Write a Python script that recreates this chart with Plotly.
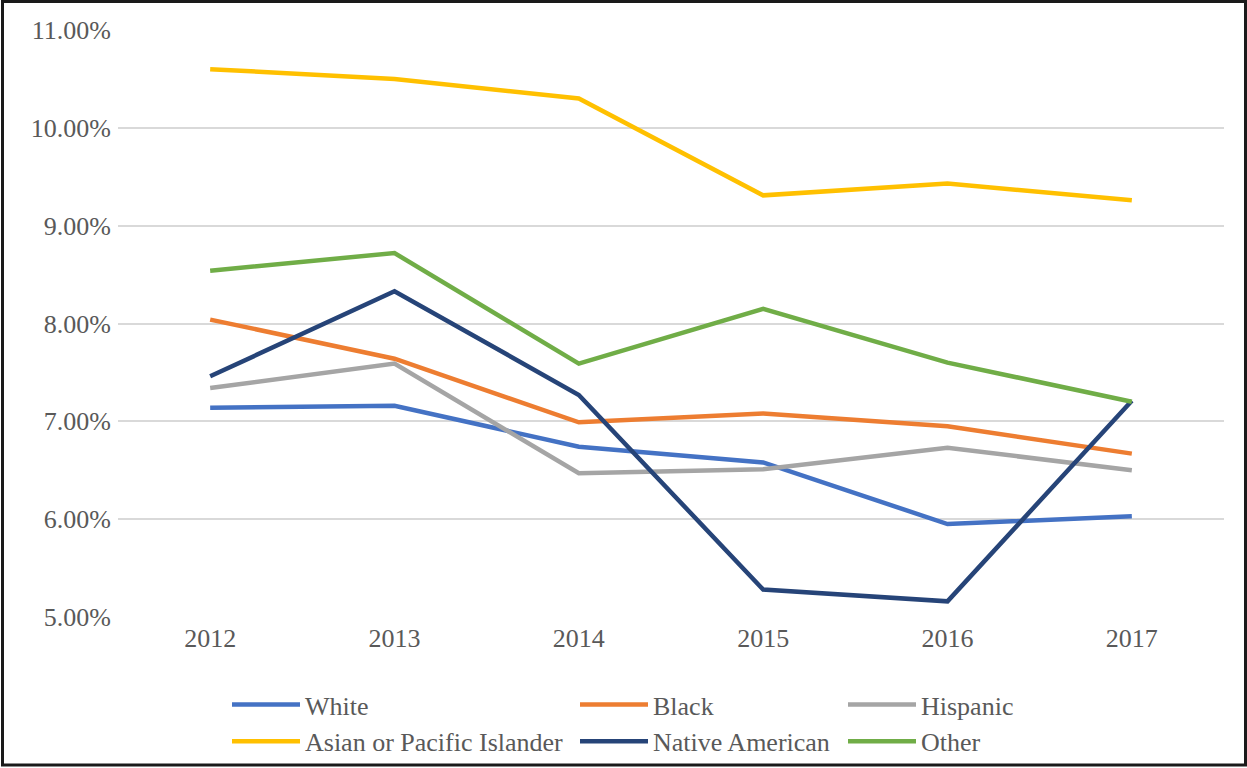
import plotly.graph_objects as go

# Category axis and series values (percent)
years = ["2012", "2013", "2014", "2015", "2016", "2017"]

white = [7.14, 7.16, 6.74, 6.58, 5.95, 6.03]
black = [8.04, 7.64, 6.99, 7.08, 6.95, 6.67]
hispanic = [7.34, 7.59, 6.47, 6.51, 6.73, 6.50]
asian_pi = [10.60, 10.50, 10.30, 9.31, 9.43, 9.26]
native_american = [7.46, 8.33, 7.27, 5.28, 5.16, 7.21]
other = [8.54, 8.72, 7.59, 8.15, 7.60, 7.20]

y_ticks = [5, 6, 7, 8, 9, 10, 11]
y_tick_labels = ["5.00%", "6.00%", "7.00%", "8.00%", "9.00%", "10.00%", "11.00%"]

FONT = "Liberation Serif"
TEXT_COLOR = "#595959"
FONT_SIZE = 26

series = [
    ("White", white, "#4472C4", "legend"),
    ("Black", black, "#ED7D31", "legend2"),
    ("Hispanic", hispanic, "#A5A5A5", "legend3"),
    ("Asian or Pacific Islander", asian_pi, "#FFC000", "legend"),
    ("Native American", native_american, "#264478", "legend2"),
    ("Other", other, "#70AD47", "legend3"),
]

fig = go.Figure()
for name, values, color, legend_id in series:
    fig.add_trace(
        go.Scatter(
            x=years,
            y=values,
            name=name,
            mode="lines",
            line=dict(color=color, width=4.5),
            legend=legend_id,
            legendgroup=name,
        )
    )

W, H = 1247, 768
ML, MR, MT, MB = 118, 23, 30, 151
plot_w = W - ML - MR
plot_h = H - MT - MB


def px_to_paper_x(px):
    return (px - ML) / plot_w


def px_to_paper_y(py):
    return (H - MB - py) / plot_h


legend_common = dict(
    orientation="v",
    xanchor="left",
    yanchor="top",
    y=px_to_paper_y(681),
    bgcolor="rgba(0,0,0,0)",
    borderwidth=0,
    font=dict(family=FONT, size=FONT_SIZE, color=TEXT_COLOR),
    itemwidth=68,
    traceorder="grouped",
    tracegroupgap=0,
    itemclick=False,
)

fig.update_layout(
    width=W,
    height=H,
    margin=dict(l=ML, r=MR, t=MT, b=MB, autoexpand=False),
    paper_bgcolor="white",
    plot_bgcolor="white",
    font=dict(family=FONT, size=FONT_SIZE, color=TEXT_COLOR),
    legend=dict(legend_common, x=px_to_paper_x(227)),
    legend2=dict(legend_common, x=px_to_paper_x(575)),
    legend3=dict(legend_common, x=px_to_paper_x(843)),
    xaxis=dict(
        type="category",
        range=[-0.5, 5.5],
        showgrid=False,
        zeroline=False,
        showline=False,
        ticks="",
        ticklabelstandoff=3,
        tickfont=dict(family=FONT, size=FONT_SIZE, color=TEXT_COLOR),
    ),
    yaxis=dict(
        range=[5, 11],
        tickvals=y_ticks,
        ticktext=y_tick_labels,
        showgrid=True,
        gridcolor="#D9D9D9",
        gridwidth=1.5,
        zeroline=False,
        showline=False,
        ticks="",
        ticklabelstandoff=6,
        tickfont=dict(family=FONT, size=FONT_SIZE, color=TEXT_COLOR),
    ),
    shapes=[
        dict(
            type="rect",
            xref="paper",
            yref="paper",
            x0=px_to_paper_x(2.5),
            x1=px_to_paper_x(1245.5),
            y0=px_to_paper_y(765),
            y1=px_to_paper_y(1.5),
            line=dict(color="#1a1a1a", width=3),
            fillcolor="rgba(0,0,0,0)",
            layer="above",
        )
    ],
)

fig.write_html("out.html")
